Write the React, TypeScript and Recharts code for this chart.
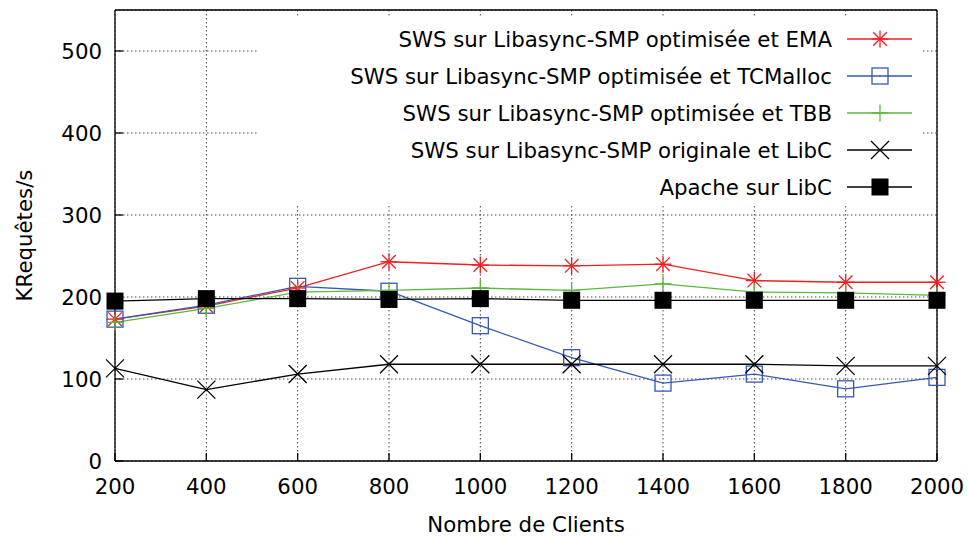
import React from 'react';
import { LineChart, Line, XAxis, YAxis, CartesianGrid, Legend, Label } from 'recharts';

const clients = [200, 400, 600, 800, 1000, 1200, 1400, 1600, 1800, 2000];
const emaValues = [173, 189, 211, 243, 239, 238, 240, 220, 218, 218];
const tcmallocValues = [173, 190, 213, 207, 165, 126, 95, 106, 88, 102];
const tbbValues = [169, 186, 206, 208, 211, 208, 216, 206, 205, 202];
const libcOrigValues = [113, 87, 106, 118, 118, 118, 118, 118, 116, 116];
const apacheValues = [195, 198, 198, 197, 198, 196, 196, 196, 196, 196];

const xTicks = [200, 400, 600, 800, 1000, 1200, 1400, 1600, 1800, 2000];
const yTicks = [0, 100, 200, 300, 400, 500];

const seriesNames = [
  'SWS sur Libasync-SMP optimisée et EMA',
  'SWS sur Libasync-SMP optimisée et TCMalloc',
  'SWS sur Libasync-SMP optimisée et TBB',
  'SWS sur Libasync-SMP originale et LibC',
  'Apache sur LibC',
];

const xLabel = 'Nombre de Clients';
const yLabel = 'KRequêtes/s';

const data = clients.map((c, i) => ({
  clients: c,
  ema: emaValues[i],
  tcmalloc: tcmallocValues[i],
  tbb: tbbValues[i],
  orig: libcOrigValues[i],
  apache: apacheValues[i],
}));

const FONT = "'DejaVu Sans', sans-serif";
const FS = 21.3;
const SW = 1.3;

type Kind = 'star' | 'square' | 'plus' | 'cross' | 'filled';

const series: { key: string; name: string; color: string; kind: Kind }[] = [
  { key: 'ema', name: seriesNames[0], color: '#f21f1f', kind: 'star' },
  { key: 'tcmalloc', name: seriesNames[1], color: '#3558b5', kind: 'square' },
  { key: 'tbb', name: seriesNames[2], color: '#5ab83a', kind: 'plus' },
  { key: 'orig', name: seriesNames[3], color: '#000000', kind: 'cross' },
  { key: 'apache', name: seriesNames[4], color: '#000000', kind: 'filled' },
];

function Marker({ kind, cx, cy, color }: { kind: Kind; cx: number; cy: number; color: string }) {
  if (cx == null || cy == null || isNaN(cx) || isNaN(cy)) return <g />;
  const s = 8.5;
  const d = 6.8;
  switch (kind) {
    case 'star':
      return (
        <g stroke={color} strokeWidth={SW}>
          <line x1={cx - s} y1={cy} x2={cx + s} y2={cy} />
          <line x1={cx} y1={cy - s} x2={cx} y2={cy + s} />
          <line x1={cx - d} y1={cy - d} x2={cx + d} y2={cy + d} />
          <line x1={cx - d} y1={cy + d} x2={cx + d} y2={cy - d} />
        </g>
      );
    case 'square':
      return (
        <g>
          <rect x={cx - 8} y={cy - 8} width={16} height={16} fill="none" stroke={color} strokeWidth={SW} />
          <rect x={cx - 0.5} y={cy - 0.5} width={1} height={1} fill={color} />
        </g>
      );
    case 'plus':
      return (
        <g stroke={color} strokeWidth={SW}>
          <line x1={cx - s} y1={cy} x2={cx + s} y2={cy} />
          <line x1={cx} y1={cy - s} x2={cx} y2={cy + s} />
        </g>
      );
    case 'cross':
      return (
        <g stroke={color} strokeWidth={SW}>
          <line x1={cx - 9} y1={cy - 9} x2={cx + 9} y2={cy + 9} />
          <line x1={cx - 9} y1={cy + 9} x2={cx + 9} y2={cy - 9} />
        </g>
      );
    case 'filled':
    default:
      return <rect x={cx - 8.5} y={cy - 8.5} width={17} height={17} fill={color} />;
  }
}

function LegendBox() {
  const W = 664;
  const H = 188;
  const textRight = 574;
  const lineX1 = 589;
  const lineX2 = 654;
  const markX = 622;
  return (
    <svg width={W} height={H} style={{ display: 'block' }}>
      <rect x={0} y={0} width={W} height={H} fill="#ffffff" />
      {series.map((s, i) => {
        const cy = 21 + i * 37;
        return (
          <g key={s.key}>
            <text
              x={textRight}
              y={cy + 7.7}
              textAnchor="end"
              fontFamily={FONT}
              fontSize={FS}
              fill="#000"
            >
              {s.name}
            </text>
            <line x1={lineX1} y1={cy} x2={lineX2} y2={cy} stroke={s.color} strokeWidth={SW} />
            <Marker kind={s.kind} cx={markX} cy={cy} color={s.color} />
          </g>
        );
      })}
    </svg>
  );
}

const XLabelContent = (props: any) => {
  const vb = props.viewBox || {};
  return (
    <text
      x={vb.x + vb.width / 2}
      y={vb.y + vb.height - 4}
      textAnchor="middle"
      fontFamily={FONT}
      fontSize={FS}
      fill="#000"
    >
      {xLabel}
    </text>
  );
};

const YLabelContent = (props: any) => {
  const vb = props.viewBox || {};
  const x = vb.x + 24;
  const y = vb.y + vb.height / 2;
  return (
    <text
      x={x}
      y={y}
      transform={`rotate(-90, ${x}, ${y})`}
      textAnchor="middle"
      dominantBaseline="central"
      fontFamily={FONT}
      fontSize={FS}
      fill="#000"
    >
      {yLabel}
    </text>
  );
};

const tickStyle = { fill: '#000', fontSize: FS, fontFamily: FONT };

export default function App() {
  return (
    <div style={{ position: 'absolute', left: 0, top: 0, width: 969, height: 536, background: '#fff' }}>
      <LineChart width={969} height={536} data={data} margin={{ top: 9, right: 31, left: 0, bottom: 0 }}>
        <CartesianGrid stroke="#444" strokeDasharray="1.5 2.5" strokeWidth={1} />
        <XAxis
          dataKey="clients"
          type="number"
          domain={[200, 2000]}
          ticks={xTicks}
          height={75}
          tickSize={-8}
          tickMargin={26}
          tick={tickStyle}
          axisLine={{ stroke: '#000', strokeWidth: SW }}
          tickLine={{ stroke: '#000', strokeWidth: SW }}
          interval={0}
        >
          <Label content={XLabelContent} />
        </XAxis>
        <XAxis
          xAxisId="top"
          orientation="top"
          dataKey="clients"
          type="number"
          domain={[200, 2000]}
          ticks={xTicks}
          height={1}
          tickSize={-8}
          tick={false}
          axisLine={{ stroke: '#000', strokeWidth: SW }}
          tickLine={{ stroke: '#000', strokeWidth: SW }}
          interval={0}
        />
        <YAxis
          type="number"
          domain={[0, 550]}
          ticks={yTicks}
          width={115}
          tickSize={-8}
          tickMargin={21}
          tick={tickStyle}
          axisLine={{ stroke: '#000', strokeWidth: SW }}
          tickLine={{ stroke: '#000', strokeWidth: SW }}
          interval={0}
        >
          <Label content={YLabelContent} />
        </YAxis>
        <YAxis
          yAxisId="right"
          orientation="right"
          type="number"
          domain={[0, 550]}
          ticks={yTicks}
          width={1}
          tickSize={-8}
          tick={false}
          axisLine={{ stroke: '#000', strokeWidth: SW }}
          tickLine={{ stroke: '#000', strokeWidth: SW }}
          interval={0}
        />
        <Legend
          layout="vertical"
          align="center"
          verticalAlign="middle"
          content={() => <LegendBox />}
          wrapperStyle={{ left: 258, top: 18, width: 664, height: 188, right: 'auto', bottom: 'auto' }}
        />
        {series.map((s) => (
          <Line
            key={s.key}
            dataKey={s.key}
            name={s.name}
            stroke={s.color}
            strokeWidth={SW}
            isAnimationActive={false}
            legendType="none"
            dot={(p: any) => (
              <Marker key={`${s.key}-${p.index}`} kind={s.kind} cx={p.cx} cy={p.cy} color={s.color} />
            )}
            activeDot={false}
          />
        ))}
      </LineChart>
    </div>
  );
}
